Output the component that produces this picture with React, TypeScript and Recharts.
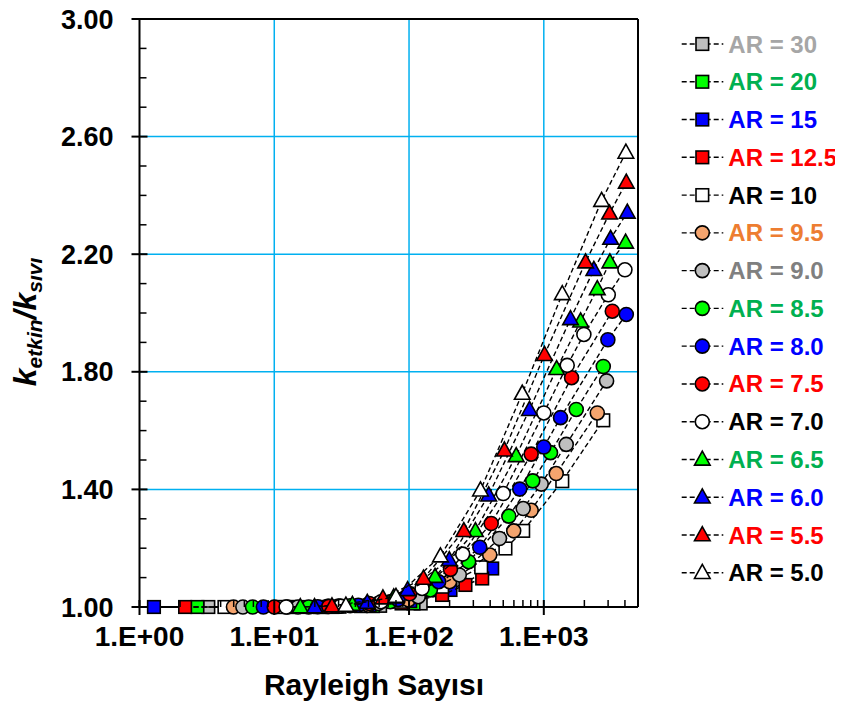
import React from "react"
import { ScatterChart, Scatter, XAxis, YAxis, ReferenceLine } from "recharts"

type Pt = [number, number]

// [Rayleigh sayısı, k_etkin/k_sıvı]
const ar30: Pt[] = [[3.24, 1.0], [17.6, 1.0], [30.5, 1.001], [61, 1.004], [122, 1.012]]
const ar20: Pt[] = [[2.69, 1.0], [14, 1.0], [27, 1.0], [54, 1.003], [108, 1.012]]
const ar15: Pt[] = [[1.28, 1.0], [13, 1.0], [26, 1.001], [51, 1.005], [102, 1.02], [203, 1.058], [414, 1.131]]
const ar125: Pt[] = [[2.18, 1.0], [11, 1.0], [22, 1.0], [44, 1.003], [88, 1.012], [176, 1.041], [262, 1.075], [349, 1.097]]
const ar10: Pt[] = [[4.27, 1.0], [11, 1.0], [22, 1.0], [43, 1.004], [86, 1.018], [176, 1.069], [343, 1.135], [519, 1.199], [703, 1.259], [1371, 1.428], [2762, 1.635]]
const ar95: Pt[] = [[4.98, 1.0], [12.5, 1.0], [25, 1.002], [49.9, 1.006], [99, 1.024], [200, 1.086], [397, 1.177], [598, 1.259], [806, 1.329], [1236, 1.454], [2494, 1.66]]
const ar90: Pt[] = [[5.85, 1.0], [15, 1.0], [30, 1.003], [59, 1.012], [117, 1.035], [236, 1.109], [469, 1.233], [703, 1.335], [957, 1.418], [1467, 1.553], [2924, 1.769]]
const ar85: Pt[] = [[6.9, 1.0], [18, 1.0], [36.6, 1.004], [72.6, 1.018], [144, 1.058], [277, 1.154], [550, 1.309], [828, 1.429], [1122, 1.525], [1741, 1.672], [2762, 1.818]]
const ar80: Pt[] = [[8.3, 1.0], [21, 1.001], [42, 1.006], [83, 1.025], [166, 1.086], [335, 1.203], [663, 1.401], [1000, 1.544], [1331, 1.644], [2988, 1.909], [4094, 1.995]]
const ar75: Pt[] = [[10, 1.0], [25.4, 1.002], [50.7, 1.012], [101, 1.045], [203, 1.128], [407, 1.284], [806, 1.52], [1607, 1.78], [3222, 2.006]]
const ar70: Pt[] = [[12.25, 1.0], [31, 1.003], [62, 1.018], [125, 1.063], [250, 1.18], [500, 1.386], [1000, 1.66], [1492, 1.822], [1983, 1.927], [3008, 2.062], [3999, 2.147]]
const ar65: Pt[] = [[15.6, 1.0], [38, 1.008], [77, 1.033], [156, 1.103], [311, 1.259], [624, 1.514], [1245, 1.81], [1876, 1.972], [2494, 2.082], [3093, 2.173], [4046, 2.24]]
const ar60: Pt[] = [[19.9, 1.0], [49, 1.015], [97.6, 1.058], [199, 1.16], [390, 1.38], [783, 1.671], [1578, 1.98], [2352, 2.147], [3132, 2.253], [4167, 2.342]]
const ar55: Pt[] = [[26.8, 1.003], [64, 1.03], [128, 1.097], [255, 1.259], [510, 1.533], [1012, 1.858], [2041, 2.173], [3076, 2.339], [4094, 2.444]]
const ar50: Pt[] = [[34, 1.005], [80, 1.035], [171, 1.173], [339, 1.397], [692, 1.726], [1371, 2.065], [2685, 2.382], [4065, 2.546]]

const xMajorTicks = [1, 10, 100, 1000]
const xTickLabels = ["1.E+00", "1.E+01", "1.E+02", "1.E+03"]
const xMinorTicks = [2, 3, 4, 5, 6, 7, 8, 9, 20, 30, 40, 50, 60, 70, 80, 90, 200, 300, 400, 500, 600, 700, 800, 900, 2000, 3000, 4000]
const yMajorTicks = [1.0, 1.4, 1.8, 2.2, 2.6, 3.0]
const yMinorTicks = [1.1, 1.2, 1.3, 1.5, 1.6, 1.7, 1.9, 2.0, 2.1, 2.3, 2.4, 2.5, 2.7, 2.8, 2.9]
const xGridValues = [10, 100, 1000]
const yGridValues = [1.4, 1.8, 2.2, 2.6]

type Kind = "square" | "circle" | "triangle"

const series: { name: string; data: Pt[]; kind: Kind; fill: string; text: string }[] = [
    { name: "AR = 30", data: ar30, kind: "square", fill: "#BFBFBF", text: "#A6A6A6" },
    { name: "AR = 20", data: ar20, kind: "square", fill: "#00FF00", text: "#00B050" },
    { name: "AR = 15", data: ar15, kind: "square", fill: "#0000FF", text: "#0000FF" },
    { name: "AR = 12.5", data: ar125, kind: "square", fill: "#FF0000", text: "#FF0000" },
    { name: "AR = 10", data: ar10, kind: "square", fill: "#FFFFFF", text: "#000000" },
    { name: "AR = 9.5", data: ar95, kind: "circle", fill: "#F4A46E", text: "#ED7D31" },
    { name: "AR = 9.0", data: ar90, kind: "circle", fill: "#BFBFBF", text: "#808080" },
    { name: "AR = 8.5", data: ar85, kind: "circle", fill: "#00FF00", text: "#00B050" },
    { name: "AR = 8.0", data: ar80, kind: "circle", fill: "#0000FF", text: "#0000FF" },
    { name: "AR = 7.5", data: ar75, kind: "circle", fill: "#FF0000", text: "#FF0000" },
    { name: "AR = 7.0", data: ar70, kind: "circle", fill: "#FFFFFF", text: "#000000" },
    { name: "AR = 6.5", data: ar65, kind: "triangle", fill: "#00FF00", text: "#00B050" },
    { name: "AR = 6.0", data: ar60, kind: "triangle", fill: "#0000FF", text: "#0000FF" },
    { name: "AR = 5.5", data: ar55, kind: "triangle", fill: "#FF0000", text: "#FF0000" },
    { name: "AR = 5.0", data: ar50, kind: "triangle", fill: "#FFFFFF", text: "#000000" },
]

const FONT = "'Liberation Sans', Arial, sans-serif"

function Marker({ cx, cy, kind, fill }: { cx: number; cy: number; kind: Kind; fill: string }) {
    if (cx == null || cy == null) return null
    if (kind === "square") {
        return <rect x={cx - 6.3} y={cy - 6.3} width={12.6} height={12.6} fill={fill} stroke="#000" strokeWidth={1.6} />
    }
    if (kind === "circle") {
        return <circle cx={cx} cy={cy} r={7} fill={fill} stroke="#000" strokeWidth={1.6} />
    }
    return (
        <polygon
            points={`${cx},${cy - 8.3} ${cx - 7.8},${cy + 5.7} ${cx + 7.8},${cy + 5.7}`}
            fill={fill}
            stroke="#000"
            strokeWidth={1.6}
        />
    )
}

function XTick(props: any) {
    const { x, y, payload } = props
    const i = xMajorTicks.indexOf(payload.value)
    if (i < 0) return <line x1={x} x2={x} y1={y} y2={y - 7} stroke="#000" strokeWidth={1.5} />
    return (
        <g>
            <line x1={x} x2={x} y1={y - 7} y2={y + 8} stroke="#000" strokeWidth={2} />
            <text x={x} y={y + 39} textAnchor="middle" fontFamily={FONT} fontWeight="bold" fontSize={28} fill="#000">
                {xTickLabels[i]}
            </text>
        </g>
    )
}

function YTick(props: any) {
    const { x, y, payload } = props
    const major = yMajorTicks.indexOf(payload.value) >= 0
    if (!major) return <line x1={x} x2={x + 7} y1={y} y2={y} stroke="#000" strokeWidth={1.5} />
    return (
        <g>
            <line x1={x - 8} x2={x + 8} y1={y} y2={y} stroke="#000" strokeWidth={2} />
            <text x={x - 26} y={y + 9.5} textAnchor="end" fontFamily={FONT} fontWeight="bold" fontSize={27} fill="#000">
                {payload.value.toFixed(2)}
            </text>
        </g>
    )
}

const lineStyle = { stroke: "#000", strokeWidth: 1.4, strokeDasharray: "5 3" }

export default function App() {
    const W = 843
    const H = 709
    return (
        <div style={{ position: "relative", width: W, height: H, margin: "-8px 0 0 -8px" }}>
            <ScatterChart width={W} height={H} margin={{ top: 19, right: 205, left: 0, bottom: 0 }}>
                <XAxis
                    type="number"
                    dataKey="ra"
                    scale="log"
                    domain={[1, 5000]}
                    ticks={[...xMajorTicks, ...xMinorTicks]}
                    interval={0}
                    height={102}
                    tickSize={0}
                    tickMargin={0}
                    tickLine={false}
                    tick={<XTick />}
                    axisLine={{ stroke: "#000", strokeWidth: 2 }}
                    allowDataOverflow
                />
                <YAxis
                    type="number"
                    dataKey="k"
                    domain={[1, 3]}
                    ticks={[...yMajorTicks, ...yMinorTicks]}
                    interval={0}
                    width={139.5}
                    tickSize={0}
                    tickMargin={0}
                    tickLine={false}
                    tick={<YTick />}
                    axisLine={{ stroke: "#000", strokeWidth: 2 }}
                />
                {xGridValues.map((v) => (
                    <ReferenceLine key={"gx" + v} x={v} stroke="#00B0F0" strokeWidth={1.5} />
                ))}
                {yGridValues.map((v) => (
                    <ReferenceLine key={"gy" + v} y={v} stroke="#00B0F0" strokeWidth={1.5} />
                ))}
                <ReferenceLine y={3} stroke="#000" strokeWidth={2} />
                <ReferenceLine x={5000} stroke="#000" strokeWidth={2} />
                {series.map((s) => (
                    <Scatter
                        key={s.name}
                        name={s.name}
                        data={s.data.map(([ra, k]) => ({ ra, k }))}
                        line={lineStyle}
                        lineType="joint"
                        isAnimationActive={false}
                        shape={(p: any) => <Marker cx={p.cx} cy={p.cy} kind={s.kind} fill={s.fill} />}
                    />
                ))}
            </ScatterChart>
            <svg width={W} height={H} style={{ position: "absolute", left: 0, top: 0, pointerEvents: "none" }}>
                <text
                    transform="translate(36,322) rotate(-90)"
                    textAnchor="middle"
                    fontFamily={FONT}
                    fontWeight="bold"
                    fontStyle="italic"
                    fill="#000"
                >
                    <tspan fontSize={32}>k</tspan>
                    <tspan fontSize={21} dy={6}>etkin</tspan>
                    <tspan fontSize={32} dy={-6}>/k</tspan>
                    <tspan fontSize={21} dy={6}>sıvı</tspan>
                </text>
                <text x={374} y={695} textAnchor="middle" fontFamily={FONT} fontWeight="bold" fontSize={30} fill="#000">
                    Rayleigh Sayısı
                </text>
                {series.map((s, i) => {
                    const cy = 44 + 37.77 * i
                    return (
                        <g key={s.name}>
                            <line x1={681.7} x2={723.3} y1={cy} y2={cy} stroke="#000" strokeWidth={1.4} strokeDasharray="5 3" />
                            <Marker cx={702.3} cy={cy} kind={s.kind} fill={s.fill} />
                            <text x={728.3} y={cy + 8.5} fontFamily={FONT} fontWeight="bold" fontSize={24} fill={s.text}>
                                {s.name}
                            </text>
                        </g>
                    )
                })}
            </svg>
        </div>
    )
}
